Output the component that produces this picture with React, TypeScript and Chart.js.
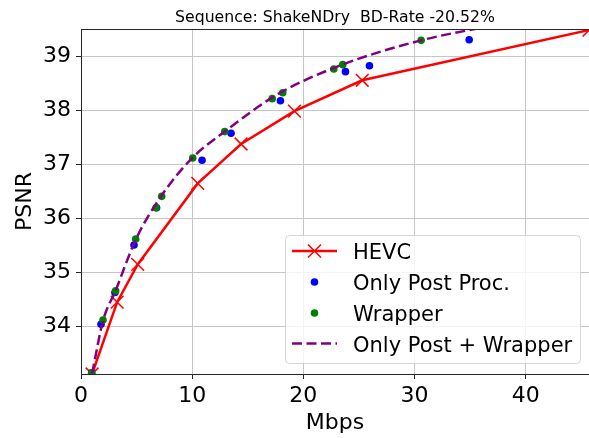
import { useEffect, useRef } from 'react';
import { Chart, registerables } from 'chart.js';

Chart.register(...registerables);

const chartTitle = 'Sequence: ShakeNDry  BD-Rate -20.52%';
const xAxisLabel = 'Mbps';
const yAxisLabel = 'PSNR';
const xTickValues = [0, 10, 20, 30, 40];
const yTickValues = [34, 35, 36, 37, 38, 39];
const xMin = 0;
const xMax = 45.7;
const yMin = 33.12;
const yMax = 39.51;

const seriesNames = ['HEVC', 'Only Post Proc.', 'Wrapper', 'Only Post + Wrapper'];

const hevcRate = [1.0, 3.25, 5.1, 10.5, 14.4, 19.2, 25.3, 45.7];
const hevcPsnr = [33.12, 34.45, 35.15, 36.65, 37.38, 37.99, 38.56, 39.49];

const postRate = [0.96, 1.8, 3.05, 4.77, 6.8, 10.89, 13.5, 17.94, 23.79, 25.95, 34.92];
const postPsnr = [33.14, 34.04, 34.63, 35.51, 36.2, 37.08, 37.58, 38.18, 38.72, 38.83, 39.31];

const wrapRate = [0.96, 1.98, 3.12, 4.92, 6.75, 7.26, 10.05, 12.93, 17.2, 18.15, 22.74, 23.55, 30.6];
const wrapPsnr = [33.14, 34.12, 34.66, 35.62, 36.2, 36.41, 37.12, 37.61, 38.22, 38.33, 38.77, 38.85, 39.3];

const comboRate = [1.0, 2.0, 3.1, 4.95, 7.2, 10.0, 13.0, 17.6, 23.0, 30.6, 38.0];
const comboPsnr = [33.13, 34.12, 34.66, 35.62, 36.41, 37.12, 37.62, 38.29, 38.81, 39.3, 39.61];

const FONT = '"DejaVu Sans", "Liberation Sans", sans-serif';
const RED = '#ff0000';
const BLUE = '#0000ff';
const GREEN = '#008000';
const PURPLE = '#800080';
const DASH = [10, 4.5];

const toPoints = (xs: number[], ys: number[]) => xs.map((x, i) => ({ x, y: ys[i] }));

const decorPlugin = {
  id: 'decor',
  afterDraw(chart: any) {
    const { ctx, chartArea: a } = chart;
    ctx.save();
    // top spine
    ctx.strokeStyle = '#262626';
    ctx.lineWidth = 1;
    ctx.beginPath();
    ctx.moveTo(a.left, a.top + 0.5);
    ctx.lineTo(a.right, a.top + 0.5);
    ctx.stroke();

    // title
    ctx.fillStyle = '#000';
    ctx.font = `15.7px ${FONT}`;
    ctx.textAlign = 'center';
    ctx.textBaseline = 'alphabetic';
    ctx.fillText(chartTitle, (a.left + a.right) / 2, 22);

    // legend
    const bw = 295;
    const bh = 128;
    const bx = a.right - 9 - bw;
    const by = a.bottom - 11 - bh;
    ctx.beginPath();
    if ((ctx as any).roundRect) {
      (ctx as any).roundRect(bx + 0.5, by + 0.5, bw, bh, 4);
    } else {
      ctx.rect(bx + 0.5, by + 0.5, bw, bh);
    }
    ctx.fillStyle = 'rgba(255,255,255,0.8)';
    ctx.fill();
    ctx.strokeStyle = 'rgba(204,204,204,0.8)';
    ctx.lineWidth = 1;
    ctx.stroke();

    const hx0 = bx + 7;
    const hx1 = bx + 52;
    const hcx = (hx0 + hx1) / 2;
    const tx = bx + 68;
    const rows = [by + 16, by + 47, by + 78, by + 108.5];

    // HEVC
    ctx.strokeStyle = RED;
    ctx.lineWidth = 2.5;
    ctx.beginPath();
    ctx.moveTo(hx0, rows[0]);
    ctx.lineTo(hx1, rows[0]);
    ctx.stroke();
    ctx.lineWidth = 1.5;
    ctx.beginPath();
    ctx.moveTo(hcx - 6.5, rows[0] - 6.5);
    ctx.lineTo(hcx + 6.5, rows[0] + 6.5);
    ctx.moveTo(hcx - 6.5, rows[0] + 6.5);
    ctx.lineTo(hcx + 6.5, rows[0] - 6.5);
    ctx.stroke();
    // dots
    ctx.fillStyle = BLUE;
    ctx.beginPath();
    ctx.arc(hcx, rows[1], 3.8, 0, Math.PI * 2);
    ctx.fill();
    ctx.fillStyle = GREEN;
    ctx.beginPath();
    ctx.arc(hcx, rows[2], 3.8, 0, Math.PI * 2);
    ctx.fill();
    // dashed
    ctx.strokeStyle = PURPLE;
    ctx.lineWidth = 2.5;
    ctx.setLineDash(DASH);
    ctx.beginPath();
    ctx.moveTo(hx0, rows[3]);
    ctx.lineTo(hx1, rows[3]);
    ctx.stroke();
    ctx.setLineDash([]);

    ctx.fillStyle = '#000';
    ctx.font = `21px ${FONT}`;
    ctx.textAlign = 'left';
    ctx.textBaseline = 'alphabetic';
    rows.forEach((ry, i) => {
      ctx.fillText(seriesNames[i], tx, ry + 8.3);
    });
    ctx.restore();
  },
};

export default function App() {
  const canvasRef = useRef<HTMLCanvasElement | null>(null);

  useEffect(() => {
    const canvas = canvasRef.current;
    if (!canvas) return;
    const tickFont = { family: FONT, size: 22 };
    const chart = new Chart(canvas, {
      type: 'scatter',
      data: {
        datasets: [
          {
            label: seriesNames[0],
            data: toPoints(hevcRate, hevcPsnr),
            showLine: true,
            borderColor: RED,
            backgroundColor: RED,
            borderWidth: 2.5,
            tension: 0,
            pointStyle: 'crossRot',
            pointRadius: 9,
            pointBorderWidth: 1.5,
            pointBorderColor: RED,
            clip: 0,
            order: 3,
          },
          {
            label: seriesNames[1],
            data: toPoints(postRate, postPsnr),
            showLine: false,
            pointStyle: 'circle',
            pointRadius: 3.8,
            pointBorderWidth: 0,
            pointBackgroundColor: BLUE,
            backgroundColor: BLUE,
            borderColor: BLUE,
            clip: 0,
            order: 2,
          },
          {
            label: seriesNames[2],
            data: toPoints(wrapRate, wrapPsnr),
            showLine: false,
            pointStyle: 'circle',
            pointRadius: 3.8,
            pointBorderWidth: 0,
            pointBackgroundColor: GREEN,
            backgroundColor: GREEN,
            borderColor: GREEN,
            clip: 0,
            order: 1,
          },
          {
            label: seriesNames[3],
            data: toPoints(comboRate, comboPsnr),
            showLine: true,
            borderColor: PURPLE,
            backgroundColor: PURPLE,
            borderWidth: 2.5,
            borderDash: DASH,
            cubicInterpolationMode: 'monotone',
            pointRadius: 0,
            clip: 0,
            order: 0,
          } as any,
        ],
      },
      options: {
        animation: false,
        responsive: false,
        events: [],
        layout: { autoPadding: false, padding: { top: 29, left: 0, right: 0, bottom: 0 } },
        plugins: {
          legend: { display: false },
          tooltip: { enabled: false },
          title: { display: false },
        },
        scales: {
          x: {
            type: 'linear',
            min: xMin,
            max: xMax,
            afterBuildTicks: (s: any) => {
              s.ticks = xTickValues.map((v) => ({ value: v }));
            },
            afterFit: (s: any) => {
              s.height = 64;
              s.paddingLeft = 0;
              s.paddingRight = 0;
            },
            grid: { color: '#c6c6c6', lineWidth: 1, tickLength: 5, tickColor: '#262626', tickWidth: 1 },
            border: { color: '#262626', width: 1 },
            ticks: { font: tickFont, color: '#000', padding: 4, maxRotation: 0, autoSkip: false },
            title: { display: true, text: xAxisLabel, font: tickFont, color: '#000', padding: { top: 0, bottom: 2 } },
          },
          y: {
            type: 'linear',
            min: yMin,
            max: yMax,
            afterBuildTicks: (s: any) => {
              s.ticks = yTickValues.map((v) => ({ value: v }));
            },
            afterFit: (s: any) => {
              s.width = 81;
              s.paddingTop = 0;
              s.paddingBottom = 0;
            },
            grid: { color: '#c6c6c6', lineWidth: 1, tickLength: 5, tickColor: '#262626', tickWidth: 1 },
            border: { color: '#262626', width: 1 },
            ticks: { font: tickFont, color: '#000', padding: 5, autoSkip: false },
            title: { display: true, text: yAxisLabel, font: tickFont, color: '#000', padding: { top: 12, bottom: 0 } },
          },
        },
      },
      plugins: [decorPlugin],
    } as any);
    return () => chart.destroy();
  }, []);

  return (
    <div style={{ position: 'fixed', left: 0, top: 0, width: 589, height: 438, background: '#fff' }}>
      <canvas ref={canvasRef} width={589} height={438} style={{ display: 'block' }} />
    </div>
  );
}
